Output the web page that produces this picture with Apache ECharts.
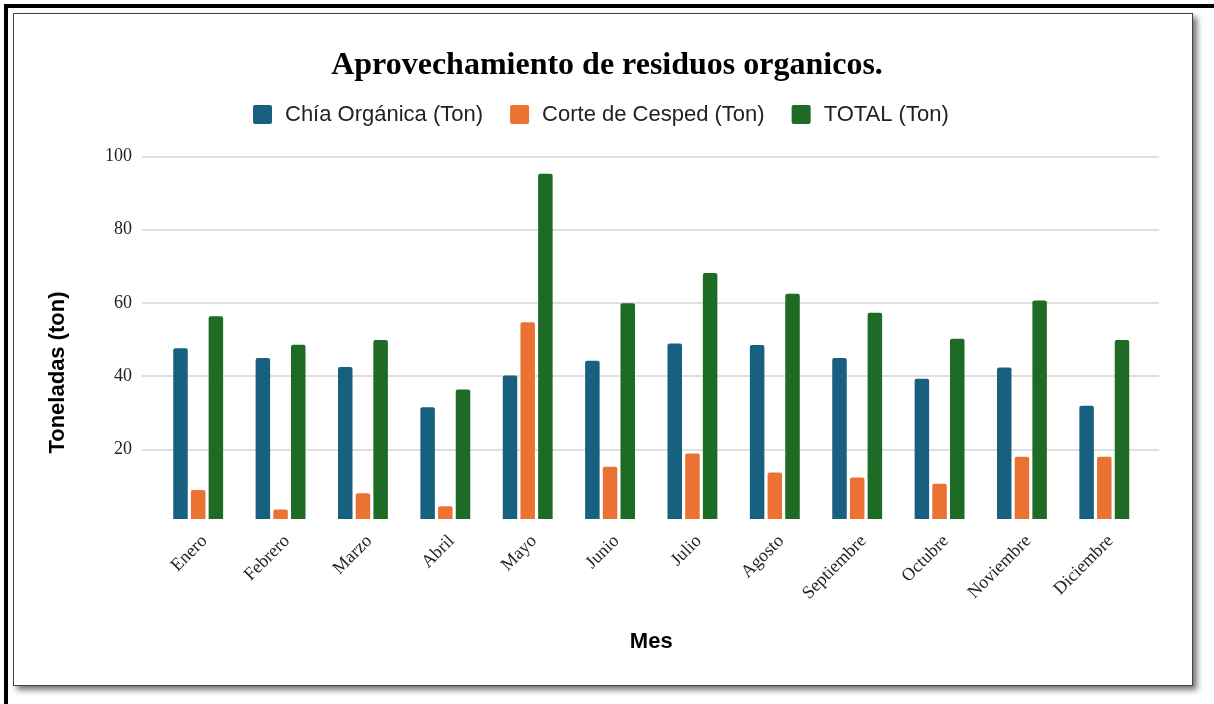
<!DOCTYPE html>
<html>
<head>
<meta charset="utf-8">
<script src="https://cdn.jsdelivr.net/npm/echarts@6/dist/echarts.min.js"></script>
<style>
  html, body { margin: 0; padding: 0; background: #fff; }
  #frame { position: absolute; left: 4px; top: 4px; width: 1210px; height: 700px;
           border-left: 4px solid #000; border-top: 4px solid #000; box-sizing: border-box; }
  #card { position: absolute; left: 13px; top: 13px; width: 1180px; height: 673px;
          border: 1px solid #444; box-sizing: border-box; background: #fff;
          box-shadow: 4px 4px 6px rgba(0,0,0,0.55); }
  #chart { position: absolute; left: 0; top: 0; width: 1214px; height: 704px; }
</style>
</head>
<body>
<div id="frame"></div>
<div id="card"></div>
<div id="chart"></div>
<script>
const meses = ['Enero', 'Febrero', 'Marzo', 'Abril', 'Mayo', 'Junio', 'Julio',
  'Agosto', 'Septiembre', 'Octubre', 'Noviembre', 'Diciembre']
const chiaOrganica = [47.6, 45.0, 42.5, 31.5, 40.2, 44.2, 48.9, 48.5, 45.0, 39.3, 42.4, 31.9]
const corteCesped = [8.9, 3.6, 8.0, 4.5, 54.7, 15.3, 18.9, 13.7, 12.3, 10.6, 18.0, 18.0]
const total = [56.4, 48.6, 49.9, 36.4, 95.3, 59.9, 68.2, 62.5, 57.3, 50.2, 60.7, 49.9]
const yTicks = [20, 40, 60, 80, 100]

const colores = ['#18607f', '#ea7334', '#1d6b25']
const serif = "'Liberation Serif', 'Times New Roman', serif"
const sans = "'Liberation Sans', Arial, sans-serif"

const chart = echarts.init(document.getElementById('chart'))

function barra (name, data, color) {
  return {
    name: name,
    type: 'bar',
    xAxisIndex: 1,
    yAxisIndex: 1,
    data: data,
    barWidth: 14.5,
    barGap: '22%',
    itemStyle: { color: color, borderRadius: [2, 2, 0, 0] }
  }
}

chart.setOption({
  color: colores,
  animation: false,
  title: {
    text: 'Aprovechamiento de residuos organicos.',
    left: 'center',
    top: 45,
    textStyle: { fontFamily: serif, fontSize: 32, fontWeight: 'bold', color: '#000' }
  },
  legend: {
    left: 253,
    top: 103.5,
    padding: 0,
    itemWidth: 19,
    itemHeight: 19,
    itemGap: 27,
    icon: 'path://M2,0 L17,0 Q19,0 19,2 L19,17 Q19,19 17,19 L2,19 Q0,19 0,17 L0,2 Q0,0 2,0 Z',
    textStyle: { fontFamily: sans, fontSize: 22, color: '#222', padding: [0, 0, 0, 8] },
    data: ['Chía Orgánica (Ton)', 'Corte de Cesped (Ton)', 'TOTAL (Ton)']
  },
  grid: [
    // gridlines span wider than the category band
    { left: 142, right: 55, top: 156.5, bottom: 181.5 },
    { left: 157, right: 68.5, top: 156.5, bottom: 185 }
  ],
  xAxis: [
    { type: 'category', gridIndex: 0, data: meses, show: false },
    {
      type: 'category',
      gridIndex: 1,
      data: meses,
      axisLine: { show: false },
      axisTick: { show: false },
      axisLabel: { rotate: 45, margin: 13, verticalAlign: 'top', fontFamily: serif, fontSize: 18, color: '#222' },
      name: 'Mes',
      nameLocation: 'middle',
      nameGap: 112,
      nameTextStyle: { fontFamily: sans, fontSize: 22, fontWeight: 'bold', color: '#000' }
    }
  ],
  yAxis: [
    {
      type: 'value',
      gridIndex: 0,
      min: 0,
      max: 100,
      interval: 20,
      axisLine: { show: false },
      axisTick: { show: false },
      axisLabel: {
        margin: 10,
        fontFamily: serif,
        fontSize: 18,
        color: '#222',
        formatter: function (v) { return yTicks.indexOf(v) >= 0 ? v : '' }
      },
      splitLine: {
        show: true,
        lineStyle: { color: '#d4d4d4', width: 1.5 },
        showMinLine: false
      },
      name: 'Toneladas (ton)',
      nameLocation: 'middle',
      nameRotate: 90,
      nameGap: 73,
      nameTextStyle: { fontFamily: sans, fontSize: 22, fontWeight: 'bold', color: '#000', padding: [0, 66, 0, 0] }
    },
    { type: 'value', gridIndex: 1, min: 1, max: 100, show: false, splitLine: { show: false } }
  ],
  series: [
    barra('Chía Orgánica (Ton)', chiaOrganica, colores[0]),
    barra('Corte de Cesped (Ton)', corteCesped, colores[1]),
    barra('TOTAL (Ton)', total, colores[2])
  ]
})
</script>
</body>
</html>
